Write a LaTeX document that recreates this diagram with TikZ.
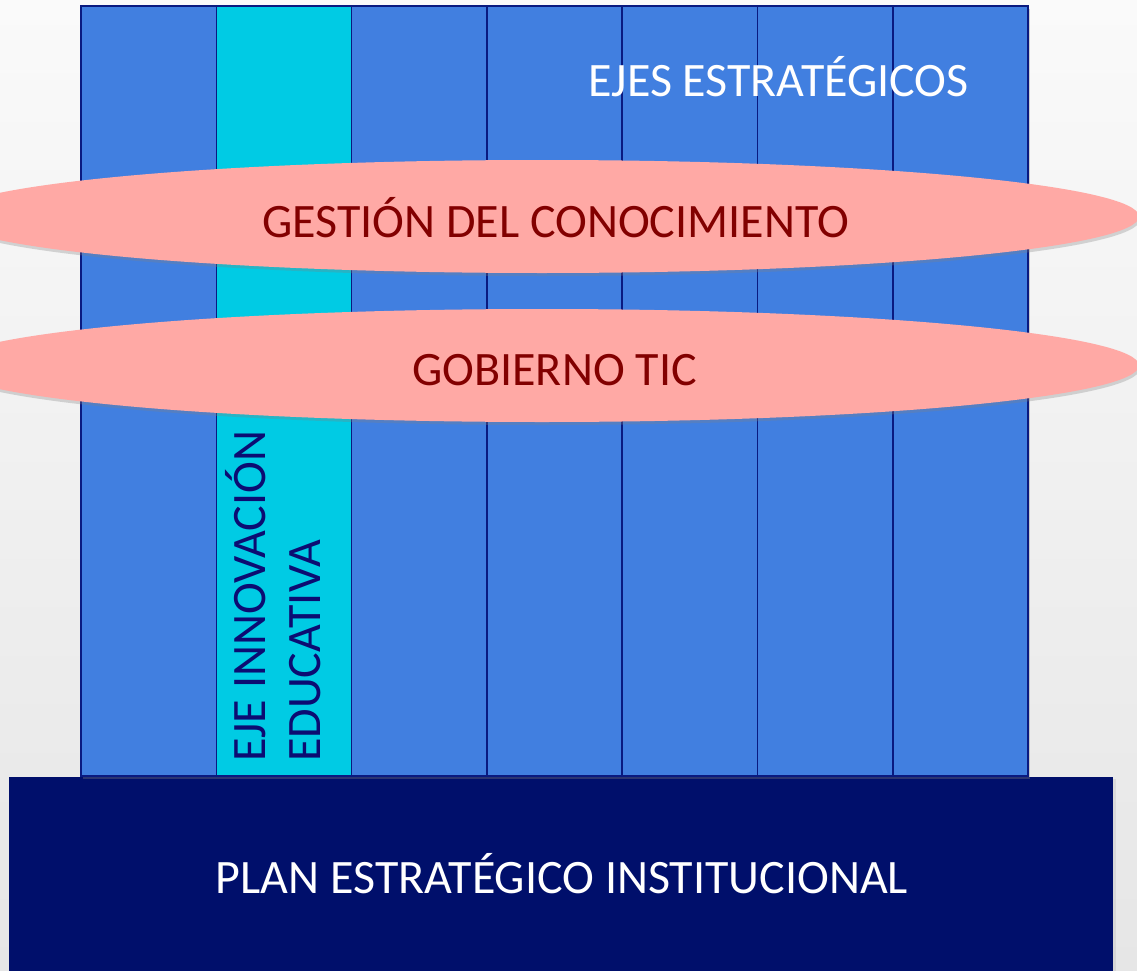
\documentclass[tikz,border=0pt]{standalone}
\usepackage{fontspec}
\setmainfont{Carlito}
\usetikzlibrary{shapes.geometric,shadows}
\definecolor{bgtop}{HTML}{FAFAFA}
\definecolor{bgbot}{HTML}{E6E6E6}
\definecolor{colblue}{HTML}{417FE0}
\definecolor{colcyan}{HTML}{00CBE4}
\definecolor{colborder}{HTML}{0A1A80}
\definecolor{basenavy}{HTML}{000F6B}
\definecolor{ellpink}{HTML}{FFA9A5}
\definecolor{elltext}{HTML}{820000}
\definecolor{vnavy}{HTML}{0C0C72}
\tikzset{
  colbox/.style={rectangle, draw=colborder, line width=1.5pt, fill=colblue,
    minimum width=135.3pt, minimum height=770pt, inner sep=0pt,
    drop shadow={opacity=0.35, shadow xshift=2pt, shadow yshift=-3pt}},
  basebox/.style={rectangle, fill=basenavy, minimum width=1104pt, minimum height=196pt, inner sep=0pt,
    drop shadow={opacity=0.15, shadow xshift=3pt, shadow yshift=-2pt}},
  ellbox/.style={ellipse, fill=ellpink, minimum width=1194pt, minimum height=113pt, inner sep=0pt,
    drop shadow={opacity=0.3, shadow xshift=1pt, shadow yshift=-3pt}},
  bigtext/.style={inner sep=0pt, font=\fontsize{48}{57.6}\selectfont},
}
\begin{document}
\begin{tikzpicture}[x=1pt,y=-1pt]
\useasboundingbox (0,0) rectangle (1137,971);
\shade[top color=bgtop, bottom color=bgbot] (0,0) rectangle (1137,971);
% base
\node[basebox] (base) at (561,875) {};
% columns
\node[colbox] (c0) at (148.65,391) {};
\node[colbox, fill=colcyan] (c1) at (283.95,391) {};
\node[colbox] (c2) at (419.25,391) {};
\node[colbox] (c3) at (554.55,391) {};
\node[colbox] (c4) at (689.85,391) {};
\node[colbox] (c5) at (825.15,391) {};
\node[colbox] (c6) at (960.45,391) {};
% top label
\node[bigtext, text=white, anchor=base] (ejes) at (778.5,97) {EJES ESTRATÉGICOS};
% vertical label
\node[bigtext, text=vnavy, rotate=90, anchor=base west] (eje1) at (265,762) {EJE INNOVACIÓN};
\node[bigtext, text=vnavy, rotate=90, anchor=base west] (eje2) at (320,762) {EDUCATIVA};
% ellipses
\node[ellbox] (gc) at (542,216.5) {};
\node[bigtext, text=elltext, anchor=base] (gctext) at (555.5,237) {GESTIÓN DEL CONOCIMIENTO};
\node[ellbox] (gt) at (542,365.5) {};
\node[bigtext, text=elltext, anchor=base] (gttext) at (554.5,385) {GOBIERNO TIC};
% base label
\node[bigtext, text=white, anchor=base] (plan) at (562,893) {PLAN ESTRATÉGICO INSTITUCIONAL};
\end{tikzpicture}
\end{document}
